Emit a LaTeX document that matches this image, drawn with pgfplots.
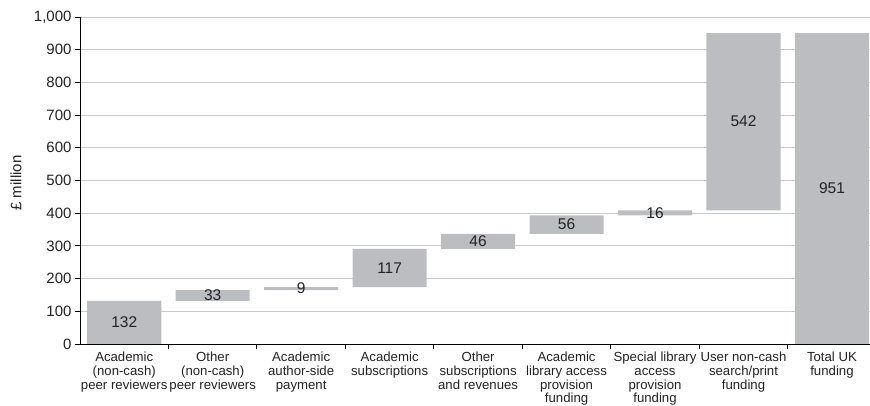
\documentclass[border=0pt]{standalone}
\usepackage{pgfplots}
\pgfplotsset{compat=1.18}
\usepackage{pgfplotstable}
\usepackage{fontspec}
\setmainfont{Liberation Sans}
\definecolor{barg}{RGB}{188,189,193}
\definecolor{gridg}{RGB}{202,202,202}
\definecolor{txt}{RGB}{35,35,35}

\pgfplotstableread{
x base val mid label
0 0 132 66 132
1 132 33 148.5 33
2 165 9 169.5 9
3 174 117 232.5 117
4 291 46 314 46
5 337 56 365 56
6 393 16 401 16
7 409 542 680 542
8 0 951 475.5 951
}\wf

\pgfplotsset{wfaxis/.style={scale only axis, width=790pt, height=327pt,
  xmin=-0.5, xmax=8.43, ymin=0, ymax=1000}}

\begin{document}
\begin{tikzpicture}
\begin{axis}[wfaxis, name=ax,
  ybar stacked, bar width=0.837,
  axis x line*=bottom, axis y line*=left,
  axis line style={black, line width=0.9pt},
  ytick={0,100,...,1000},
  ymajorgrids, grid style={gridg, line width=0.9pt},
  /pgf/number format/assume math mode=true,
  /pgf/number format/1000 sep={,},
  yticklabel style={font=\fontsize{15}{16}\selectfont, text=txt},
  tick align=outside, major tick length=5pt,
  tick style={black, line width=0.9pt},
  xtick={0.5,1.5,...,7.5}, xticklabels={{},{},{},{},{},{},{},{}},
  extra x ticks={0,1,...,8},
  extra x tick labels={Academic\\(non-cash)\\peer reviewers,
    Other\\(non-cash)\\peer reviewers,
    Academic\\author-side\\payment,
    Academic\\subscriptions,
    Other\\subscriptions\\and revenues,
    Academic\\library access\\provision\\funding,
    Special library\\access\\provision\\funding,
    User non-cash\\search/print\\funding,
    Total UK\\funding},
  extra x tick style={major tick length=0pt},
  x tick label style={font=\fontsize{13.2}{13.7}\selectfont, text=txt, align=center, anchor=north, inner sep=1pt, yshift=-7pt},
  ylabel={£ million},
  ylabel style={font=\fontsize{15}{16}\selectfont, text=txt, at={(axis description cs:-0.081,0.492)}, anchor=center},
]
\addplot[draw=none, fill=none] table[x=x, y=base]{\wf};
\addplot[draw=none, fill=barg] table[x=x, y=val]{\wf};
\end{axis}
\begin{axis}[wfaxis, hide axis]
\addplot[only marks, mark=none, nodes near coords, point meta=explicit symbolic,
  every node near coord/.style={anchor=center, font=\fontsize{15.5}{17}\selectfont, text=txt}]
  table[x=x, y=mid, meta=label]{\wf};
\end{axis}
\pgfresetboundingbox
\path[use as bounding box] ([xshift=-80pt,yshift=-62pt]ax.south west) rectangle ([yshift=17pt]ax.north east);
\end{tikzpicture}
\end{document}
